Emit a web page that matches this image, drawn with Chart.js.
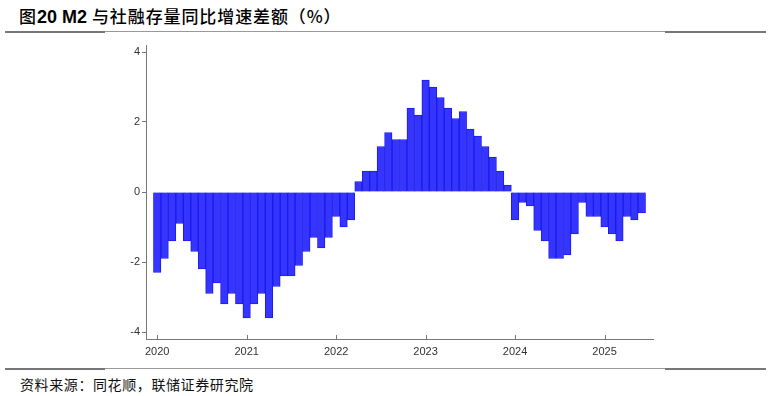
<!DOCTYPE html>
<html>
<head>
<meta charset="utf-8">
<script src="https://cdn.jsdelivr.net/npm/chart.js@4"></script>
<style>
  body { margin: 0; background: #fff; }
  #wrap { position: relative; width: 771px; height: 396px; overflow: hidden; }
  #title { position: absolute; left: 19px; top: 3px; font-size: 17px; color: #000; white-space: nowrap; }
  #title .cn { font-family: "Noto Sans CJK SC", sans-serif; font-weight: 500; letter-spacing: 0.9px; }
  #title .en { font-family: "Liberation Sans", Arial, sans-serif; font-weight: bold; font-size: 18px; }
  #source { position: absolute; left: 20px; top: 374px; font-family: "Noto Sans CJK SC", sans-serif; font-size: 14px; letter-spacing: 0.6px; color: #111; white-space: nowrap; }
  .rule { position: absolute; background: #999; height: 1px; }
  .rule.thick { background: #777; height: 2px; }
</style>
</head>
<body>
<div id="wrap">
  <div id="title"><span class="cn">图</span><span class="en">20 M2 </span><span class="cn">与社融存量同比增速差额（%）</span></div>
  <div class="rule thick" style="left:5px;top:31px;width:100px"></div>
  <div class="rule" style="left:105px;top:31px;width:560px"></div>
  <div class="rule thick" style="left:665px;top:31px;width:101px"></div>
  <div class="rule thick" style="left:5px;top:368px;width:100px"></div>
  <div class="rule" style="left:105px;top:368px;width:560px"></div>
  <div class="rule thick" style="left:665px;top:368px;width:101px"></div>
  <div id="source">资料来源：同花顺，联储证券研究院</div>
  <canvas id="chart" width="771" height="396" style="position:absolute;left:0;top:0"></canvas>
</div>
<script>
// 2020-01 .. 2025-06, monthly
const yearLabels = ["2020", "2021", "2022", "2023", "2024", "2025"];
const yearTickPos = [0, 12, 24, 36, 48, 60];
const yTicks = [-4, -2, 0, 2, 4];
const values = [
    -2.3, -1.9, -1.4, -0.9, -1.4, -1.7, -2.2, -2.9, -2.6, -3.2, -2.9, -3.2,
    -3.6, -3.2, -2.9, -3.6, -2.7, -2.4, -2.4, -2.1, -1.7, -1.3, -1.6, -1.3,
    -0.7, -1.0, -0.8, 0.3, 0.6, 0.6, 1.3, 1.7, 1.5, 1.5, 2.4, 2.2,
    3.2, 3.0, 2.7, 2.4, 2.1, 2.3, 1.8, 1.6, 1.3, 1.0, 0.6, 0.2,
    -0.8, -0.3, -0.4, -1.1, -1.4, -1.9, -1.9, -1.8, -1.2, -0.3, -0.7, -0.7,
    -1.0, -1.2, -1.4, -0.7, -0.8, -0.6
];

const axisColor = "#777";

// x ticks point up into the plot
const innerTicks = {
    id: "innerTicks",
    afterDraw(chart) {
        const x = chart.scales.x;
        const ctx = chart.ctx;
        const bottom = chart.chartArea.bottom;
        ctx.save();
        ctx.strokeStyle = axisColor;
        ctx.lineWidth = 1;
        yearTickPos.forEach(function (v) {
            const px = Math.round(x.getPixelForValue(v)) + 0.5;
            ctx.beginPath();
            ctx.moveTo(px, bottom - 4);
            ctx.lineTo(px, bottom);
            ctx.stroke();
        });
        ctx.restore();
    }
};

new Chart(document.getElementById("chart").getContext("2d"), {
    type: "bar",
    data: {
        datasets: [{
            data: values.map(function (v, i) { return { x: i, y: v }; }),
            backgroundColor: "#3535ff",
            borderColor: "#1c1ce8",
            borderWidth: 1,
            barPercentage: 1,
            categoryPercentage: 1
        }]
    },
    options: {
        responsive: false,
        animation: false,
        layout: { padding: { top: 45, right: 118, left: 0, bottom: 0 } },
        plugins: { legend: { display: false }, tooltip: { enabled: false } },
        scales: {
            x: {
                type: "linear",
                offset: false,
                min: -1.5,
                max: 66.5,
                afterFit: function (scale) { scale.height = 57; },
                afterBuildTicks: function (scale) {
                    scale.ticks = yearTickPos.map(function (v) { return { value: v }; });
                },
                grid: { display: true, drawOnChartArea: false, drawTicks: false, offset: false },
                border: { display: true, color: axisColor, width: 1 },
                ticks: {
                    autoSkip: false,
                    maxRotation: 0,
                    padding: 6,
                    color: "#333",
                    font: { family: "'Liberation Sans', Arial, sans-serif", size: 11 },
                    callback: function (v) { return yearLabels[yearTickPos.indexOf(v)]; }
                }
            },
            y: {
                min: -4.2,
                max: 4.2,
                afterFit: function (scale) { scale.width = 146; },
                afterBuildTicks: function (scale) {
                    scale.ticks = yTicks.map(function (v) { return { value: v }; });
                },
                grid: { drawOnChartArea: false, drawTicks: true, tickLength: 4, color: axisColor },
                border: { display: true, color: axisColor, width: 1 },
                ticks: {
                    padding: 2,
                    color: "#333",
                    font: { family: "'Liberation Sans', Arial, sans-serif", size: 11 }
                }
            }
        }
    },
    plugins: [innerTicks]
});
</script>
</body>
</html>
